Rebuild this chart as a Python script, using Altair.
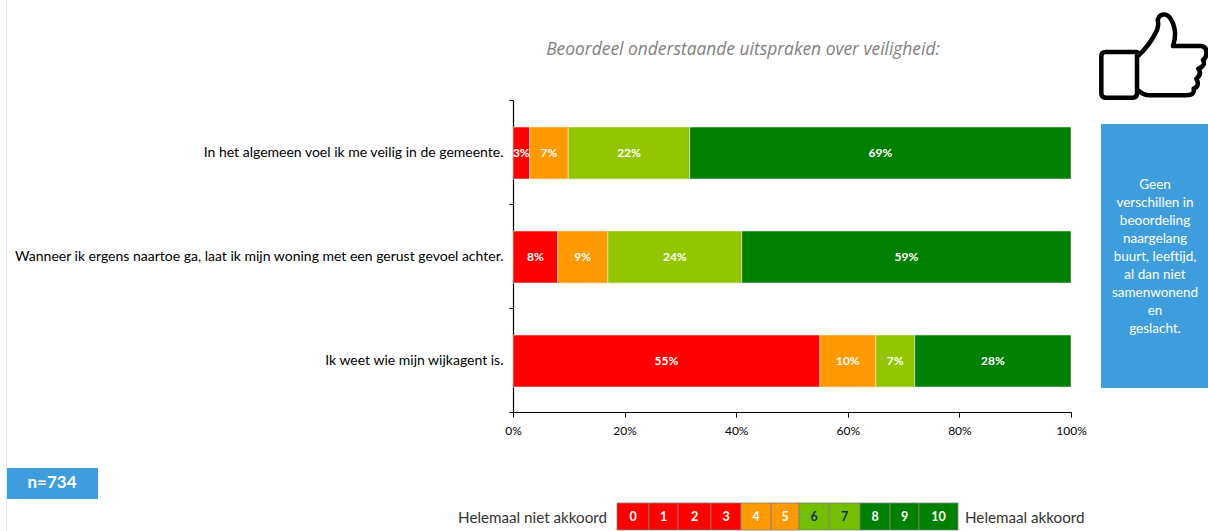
import altair as alt
import pandas as pd

statements = [
    "In het algemeen voel ik me veilig in de gemeente.",
    "Wanneer ik ergens naartoe ga, laat ik mijn woning met een gerust gevoel achter.",
    "Ik weet wie mijn wijkagent is.",
]
groups = ["0-3", "4-5", "6-7", "8-10"]
group_colors = ["#FF0000", "#FF9900", "#94C600", "#008000"]
veilig_gemeente = [3, 7, 22, 69]
veilig_woning = [8, 9, 24, 59]
wijkagent = [55, 10, 7, 28]

scale_labels = ["0", "1", "2", "3", "4", "5", "6", "7", "8", "9", "10"]
scale_colors = ["#FF0000"] * 4 + ["#FF9900"] * 2 + ["#72BF00"] * 2 + ["#008000"] * 3
scale_text = ["#FFFFFF"] * 6 + ["#12305A"] * 2 + ["#FFFFFF"] * 3
scale_edges = [617, 649, 678, 711, 741, 771, 799, 829, 860, 890, 919, 958]

note_lines = ["Geen", "verschillen in", "beoordeling", "naargelang", "buurt, leeftijd,",
              "al dan niet", "samenwonend", "en", "geslacht."]

# Thumbs-up outline, centred on the symbol's anchor
THUMB = (
    "M-142,-12 L-48,-12 L-48,112 Q-48,125 -60,125 L-142,125 Q-155,125 -155,112 "
    "L-155,0 Q-155,-12 -142,-12 Z "
    "M-48,2 Q-10,-30 12,-78 Q18,-95 14,-108 Q20,-128 38,-124 Q56,-118 64,-84 Q70,-60 60,-30 "
    "L144,-30 Q162,-28 160,-8 Q160,6 150,12 Q160,28 136,38 Q148,54 130,68 Q142,90 122,98 "
    "Q126,118 100,118 L-10,118 Q-30,118 -48,100"
)

PLOT_LEFT, PLOT_TOP, PLOT_W, PLOT_H = 513, 100, 558, 312
FONT = "Lato"

rows = []
for statement, values in zip(statements, [veilig_gemeente, veilig_woning, wijkagent]):
    for i, (group, value) in enumerate(zip(groups, values)):
        rows.append({"statement": statement, "group": group, "order": i, "value": value,
                     "label": f"{value}%"})
data = pd.DataFrame(rows)

base = alt.Chart(data).transform_stack(
    stack="value", groupby=["statement"], sort=[alt.SortField("order", order="ascending")],
    offset="normalize", as_=["x0", "x1"],
).transform_calculate(mid="(datum.x0 + datum.x1) / 2")

x_scale = alt.Scale(domain=[0, 1], nice=False)
y_scale = alt.Scale(domain=statements, paddingInner=0, paddingOuter=0)

bars = base.mark_bar(size=52, yOffset=1, stroke="#E4E4E4", strokeWidth=0.6).encode(
    x=alt.X("x0:Q", scale=x_scale, title=None,
            axis=alt.Axis(format=".0%", values=[0, 0.2, 0.4, 0.6, 0.8, 1], grid=False,
                          domainColor="#000000", tickColor="#000000", tickSize=5,
                          labelColor="#000000", labelFont=FONT, labelFontSize=12,
                          labelPadding=8, labelFlush=False, domainWidth=1.2)),
    x2="x1:Q",
    y=alt.Y("statement:N", scale=y_scale, sort=statements, title=None,
            axis=alt.Axis(tickBand="extent", grid=False, domainColor="#000000",
                          tickColor="#000000", tickSize=4, labelColor="#000000",
                          labelFont=FONT, labelFontSize=14, labelLimit=600, labelPadding=6,
                          domainWidth=1.2)),
    color=alt.Color("group:N", scale=alt.Scale(domain=groups, range=group_colors), legend=None),
)
bar_labels = base.mark_text(color="#FFFFFF", font=FONT, fontSize=12, fontWeight="bold", yOffset=1).encode(
    x=alt.X("mid:Q", scale=x_scale),
    y=alt.Y("statement:N", scale=y_scale, sort=statements),
    text="label:N",
)

one = alt.Chart(pd.DataFrame({"row": [0]}))


def px(v):
    return alt.value(v - PLOT_LEFT)


def py(v):
    return alt.value(v - PLOT_TOP)


def box(x0, x1, y0, y1, color, **kw):
    return one.mark_rect(color=color, **kw).encode(x=px(x0), x2=px(x1), y=py(y0), y2=py(y1))


def label(text, x, y, **kw):
    return one.mark_text(text=text, **kw).encode(x=px(x), y=py(y))


layers = [
    # faint page rule along the left edge
    box(6, 7, 0, 531, "#E8E8E8"),
    bars,
    bar_labels,
    label("Beoordeel onderstaande uitspraken over veiligheid:", 743, 50, font="Open Sans",
          fontSize=17.4, fontStyle="italic", color="#7F7F7F"),
    one.mark_point(shape=THUMB, size=4 / 9, filled=False, stroke="#000000", strokeWidth=4.5,
                   strokeJoin="round", opacity=1).encode(x=px(1153), y=py(56)),
    box(1101, 1208, 124, 388, "#3E9EDD"),
    label(note_lines, 1155, 178, font=FONT, fontSize=13.5, color="#FFFFFF", lineHeight=18,
          baseline="top"),
    box(7, 98, 468, 499, "#3E9EDD"),
    label("n=734", 52, 483, font=FONT, fontSize=17, fontWeight="bold", color="#FFFFFF"),
    label("Helemaal niet akkoord", 607, 518, font=FONT, fontSize=15.2, color="#333333", align="right"),
    label("Helemaal akkoord", 965, 518, font=FONT, fontSize=15.2, color="#333333", align="left"),
]

# 0-10 answer scale shown below the chart
for i, text in enumerate(scale_labels):
    x0, x1 = scale_edges[i], scale_edges[i + 1]
    layers.append(box(x0, x1, 503, 530, scale_colors[i], stroke="#808080", strokeWidth=0.8))
    layers.append(label(text, (x0 + x1) / 2, 517, font=FONT, fontSize=12.5, fontWeight="bold",
                        color=scale_text[i]))

chart = alt.layer(*layers).resolve_scale(color="independent").properties(
    width=PLOT_W,
    height=PLOT_H,
    background="#FFFFFF",
    autosize=alt.AutoSizeParams(type="none"),
    padding={"left": PLOT_LEFT, "top": PLOT_TOP, "right": 1208 - PLOT_LEFT - PLOT_W,
             "bottom": 531 - PLOT_TOP - PLOT_H},
).configure_view(stroke=None)

chart.save("out.html", embed_options={"renderer": "svg", "actions": False})
